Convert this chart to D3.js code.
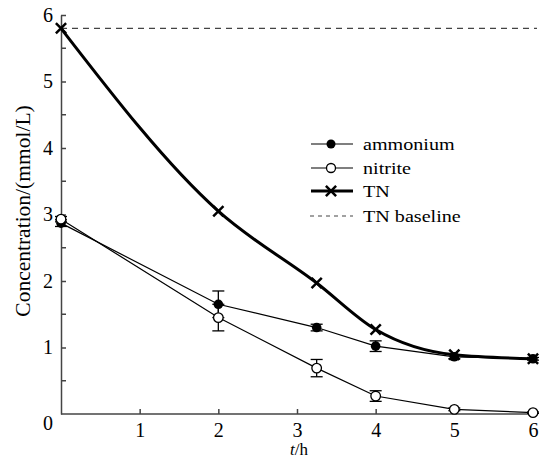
<!DOCTYPE html>
<html>
<head>
<meta charset="utf-8">
<script src="https://cdn.jsdelivr.net/npm/d3@7"></script>
<style>
  body { margin: 0; background: #fff; }
</style>
</head>
<body>
<svg width="552" height="460"></svg>
<script>
  const times = [0, 2, 3.25, 4, 5, 6]
  const ammonium = [2.87, 1.65, 1.30, 1.02, 0.86, 0.83]
  const ammoniumErr = [0.05, 0.20, 0.05, 0.08, 0.03, 0.02]
  const nitrite = [2.93, 1.45, 0.69, 0.27, 0.07, 0.02]
  const nitriteErr = [0.04, 0.20, 0.13, 0.08, 0.02, 0.01]
  const tn = [5.80, 3.05, 1.97, 1.27, 0.89, 0.83]
  const tnBaseline = 5.8
  const xTicks = [1, 2, 3, 4, 5, 6]
  const yTicks = [0, 1, 2, 3, 4, 5, 6]

  const svg = d3.select('svg')
  const x = d3.scaleLinear().domain([0, 6]).range([61, 533])
  const y = d3.scaleLinear().domain([0, 6]).range([414, 15])

  // axes, ticks pointing inward
  const xAxis = svg.append('g').attr('transform', 'translate(0,414)')
    .call(d3.axisBottom(x).tickValues(xTicks).tickFormat(d3.format('d'))
      .tickSize(-5).tickSizeOuter(0).tickPadding(9))
  xAxis.select('.domain').attr('d', 'M61,0H535')

  const yAxis = svg.append('g').attr('transform', 'translate(61,0)')
    .call(d3.axisLeft(y).tickValues(yTicks).tickFormat(d3.format('d'))
      .tickSize(-5).tickSizeOuter(0).tickPadding(8))
  yAxis.selectAll('.tick').filter(d => d === 0).select('line').remove()
  yAxis.selectAll('.tick').filter(d => d === 0).select('text').attr('dy', '0.75em')
  yAxis.selectAll('.minor').data(d3.range(0.5, 6, 1)).enter().append('line')
    .attr('x1', 0).attr('x2', 5).attr('y1', d => y(d)).attr('y2', d => y(d))

  xAxis.attr('font-size', 20)
  yAxis.attr('font-size', 20)
  svg.selectAll('.domain').attr('stroke', '#444').attr('stroke-width', 1.5)
  svg.selectAll('g line').attr('stroke', '#444').attr('stroke-width', 1.5)

  svg.append('text').attr('transform', 'translate(30,211) rotate(-90)')
    .attr('text-anchor', 'middle').attr('font-size', 21.5)
    .text('Concentration/(mmol/L)')
  svg.append('text').attr('x', 299).attr('y', 455).attr('text-anchor', 'middle')
    .attr('font-size', 17)
    .html('<tspan font-style="italic">t</tspan>/h')

  // baseline
  svg.append('line').attr('x1', x(0)).attr('x2', x(6) + 4)
    .attr('y1', y(tnBaseline)).attr('y2', y(tnBaseline))
    .attr('stroke', '#444').attr('stroke-width', 1.3).attr('stroke-dasharray', '6,5')

  const rows = times.map((t, i) => ({ t, a: ammonium[i], ae: ammoniumErr[i], n: nitrite[i], ne: nitriteErr[i], tn: tn[i] }))

  const line = d3.line().x(d => x(d[0])).y(d => y(d[1]))

  svg.append('path').datum(rows.map(d => [d.t, d.n]))
    .attr('d', line).attr('fill', 'none').attr('stroke', '#000').attr('stroke-width', 1.2)
  svg.append('path').datum(rows.map(d => [d.t, d.a]))
    .attr('d', line).attr('fill', 'none').attr('stroke', '#000').attr('stroke-width', 1.2)
  svg.append('path').datum(rows.map(d => [d.t, d.tn]))
    .attr('d', line.curve(d3.curveMonotoneX)).attr('fill', 'none').attr('stroke', '#000').attr('stroke-width', 3)

  // error bars
  function errBars (key, errKey) {
    const g = svg.append('g').attr('stroke', '#000').attr('stroke-width', 1.3)
    rows.forEach(d => {
      const cx = x(d.t)
      const top = y(d[key] + d[errKey])
      const bot = y(d[key] - d[errKey])
      g.append('line').attr('x1', cx).attr('x2', cx).attr('y1', top).attr('y2', bot)
      g.append('line').attr('x1', cx - 6).attr('x2', cx + 6).attr('y1', top).attr('y2', top)
      g.append('line').attr('x1', cx - 6).attr('x2', cx + 6).attr('y1', bot).attr('y2', bot)
    })
  }
  errBars('a', 'ae')
  errBars('n', 'ne')

  svg.selectAll('circle.amm').data(rows).enter().append('circle')
    .attr('class', 'amm').attr('cx', d => x(d.t)).attr('cy', d => y(d.a)).attr('r', 4.8)
    .attr('fill', '#000')
  svg.selectAll('circle.nit').data(rows).enter().append('circle')
    .attr('class', 'nit').attr('cx', d => x(d.t)).attr('cy', d => y(d.n)).attr('r', 4.8)
    .attr('fill', '#fff').attr('stroke', '#000').attr('stroke-width', 1.3)

  const cross = d3.symbol().type(d3.symbolX).size(70)
  svg.selectAll('path.tn').data(rows).enter().append('path')
    .attr('class', 'tn').attr('d', cross)
    .attr('transform', d => `translate(${x(d.t)},${y(d.tn)})`)
    .attr('fill', 'none').attr('stroke', '#000').attr('stroke-width', 2.5)

  // legend (the reference font is a bit wide, so stretch it sideways)
  const legend = svg.append('g').attr('font-size', 16.5)
  const items = ['ammonium', 'nitrite', 'TN', 'TN baseline']
  const rowY = [144, 168, 191, 216]
  items.forEach((name, i) => {
    const g = legend.append('g').attr('transform', `translate(0,${rowY[i]})`)
    if (name === 'TN baseline') {
      g.append('line').attr('x1', 310).attr('x2', 353)
        .attr('stroke', '#444').attr('stroke-width', 1.2).attr('stroke-dasharray', '4,4')
    } else {
      g.append('line').attr('x1', 311).attr('x2', 353)
        .attr('stroke', '#000').attr('stroke-width', name === 'TN' ? 3 : 1.2)
    }
    if (name === 'ammonium') g.append('circle').attr('cx', 331).attr('r', 4.5).attr('fill', '#000')
    if (name === 'nitrite') g.append('circle').attr('cx', 331).attr('r', 4.5).attr('fill', '#fff').attr('stroke', '#000').attr('stroke-width', 1.3)
    if (name === 'TN') g.append('path').attr('d', cross).attr('transform', 'translate(331,0)').attr('stroke', '#000').attr('stroke-width', 2.5)
    g.append('text').attr('transform', 'translate(363,0) scale(1.22,1)')
      .attr('dy', '0.35em').text(name)
  })

  svg.selectAll('text').style('font-family', "'Liberation Serif', serif")
</script>
</body>
</html>
